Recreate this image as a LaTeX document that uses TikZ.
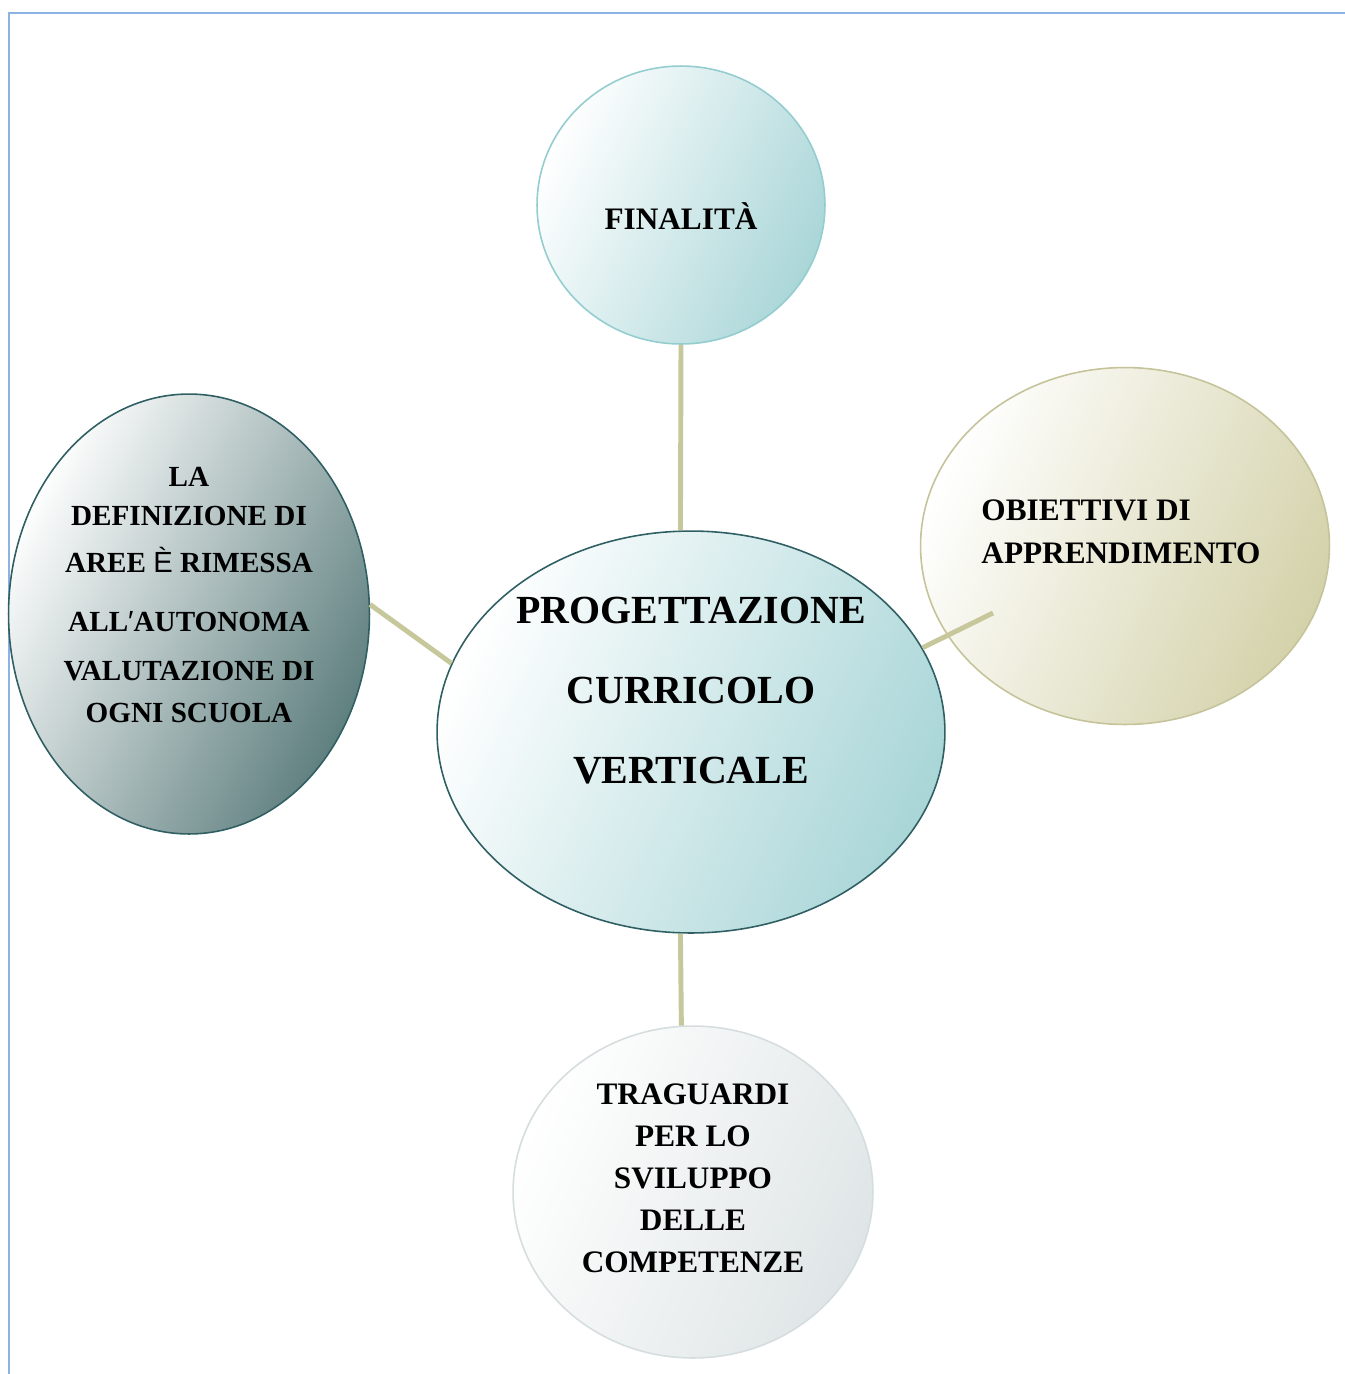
\documentclass[tikz,border=0pt]{standalone}
\usepackage{fontspec}
\setmainfont{Liberation Serif}
\newfontfamily\sansfnt{Liberation Sans}
\usepackage{tikz}
\usetikzlibrary{shapes.geometric}
\definecolor{frame1}{HTML}{8DB3E2}
\definecolor{link1}{HTML}{C6C79A}
\definecolor{teal1}{HTML}{2F5F63}
\definecolor{teal2}{HTML}{93CDD0}
\definecolor{teal3}{HTML}{AAD6D8}
\definecolor{olive1}{HTML}{C5C39A}
\definecolor{olive2}{HTML}{D4D2AA}
\definecolor{grey1}{HTML}{D5DDDE}
\definecolor{grey2}{HTML}{DFE5E6}
\definecolor{slate1}{HTML}{D3D7D8}
\definecolor{slate2}{HTML}{5E7E7E}
\tikzset{bubble/.style={draw,ellipse,inner sep=0pt,line width=0.9pt},
  link/.style={draw=link1,line width=2.8pt},
  txt/.style={inner sep=0pt,align=center,font=\bfseries\fontsize{17.8}{23.9}\selectfont}}

\begin{document}
\begin{tikzpicture}[x=0.02cm,y=-0.02cm]
\useasboundingbox (0,0) rectangle (1345,1374);
\draw[frame1,line width=1.2pt] (9,1374) -- (9,13) -- (1345,13);
% bubbles
\node[bubble,draw=teal2,top color=white,bottom color=teal3,shading angle=65,
  minimum width=5.76cm,minimum height=5.56cm] (fin) at (681,205) {};
\node[bubble,draw=olive1,top color=white,bottom color=olive2,shading angle=65,
  minimum width=8.18cm,minimum height=7.14cm] (obj) at (1125,546) {};
\node[bubble,draw=teal1,top color=white,middle color=slate1,bottom color=slate2,shading angle=62,
  minimum width=7.22cm,minimum height=8.8cm] (aree) at (189,614) {};
\node[bubble,draw=grey1,top color=white,bottom color=grey2,shading angle=65,
  minimum width=7.2cm,minimum height=6.64cm] (trag) at (693,1192) {};
\node[bubble,draw=teal1,top color=white,bottom color=teal3,shading angle=65,
  minimum width=10.16cm,minimum height=8.04cm] (ctr) at (691,732) {};
\coordinate (objend) at (993,613);
% connectors
\draw[link] (fin.south) -- (ctr.93);
\draw[link] (ctr.267) -- (trag.94);
\draw[link] (aree.3) -- (ctr.164);
\draw[link] (ctr.20) -- (objend);
% texts
\node[txt] (fint) at (681,216) {FINALITÀ};
\node[txt,align=left,font=\bfseries\fontsize{17.8}{24.5}\selectfont] (objt) at (1121,532) {OBIETTIVI DI\\APPRENDIMENTO};
\node[txt] (tragt) at (693,1178) {TRAGUARDI\\PER LO\\SVILUPPO\\DELLE\\COMPETENZE};
\node[txt,font=\bfseries\fontsize{22.7}{45.5}\selectfont] (ctrt) at (691,691) {PROGETTAZIONE\\CURRICOLO\\VERTICALE};
\node[txt,font=\bfseries\fontsize{16.6}{22.2}\selectfont] (areet) at (189,595)
  {LA\\DEFINIZIONE DI\\[4.6pt]AREE {\sansfnt\mdseries È} RIMESSA\\[11.4pt]ALL{\sansfnt\mdseries ′}AUTONOMA\\[5.7pt]VALUTAZIONE DI\\[1.7pt]OGNI SCUOLA};
\end{tikzpicture}
\end{document}
